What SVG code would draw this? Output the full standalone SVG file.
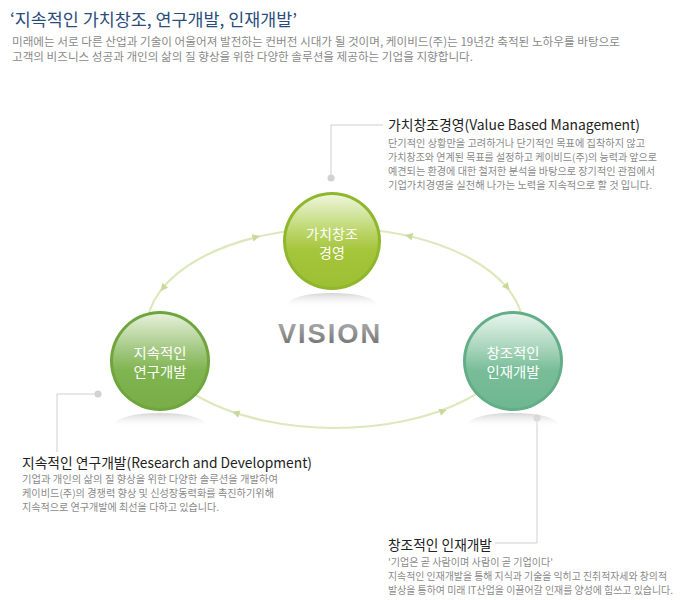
<svg xmlns="http://www.w3.org/2000/svg" width="680" height="600" viewBox="0 0 680 600">
<style>
.kr{font-family:"Noto Sans CJK KR","Liberation Sans",sans-serif}
.head{font-size:17px;fill:#2a4d7c}
.sub{font-size:11.5px;fill:#8a8a8a}
.bt{font-size:14px;fill:#222}
.bd{font-size:10px;fill:#8a8a8a}
.lbl{font-size:14px;fill:#fff;text-anchor:middle}
.ring{fill:none;stroke:#dde8bc;stroke-width:2.2}
.arr{fill:#c9d99c}
.co{fill:none;stroke:#cfcfcf;stroke-width:1}
.dot{fill:#d2d2d2}
.refl{fill:url(#gRefl)}
</style>
<defs>
<linearGradient id="gRefl" x1="0" y1="0" x2="0" y2="1">
<stop offset="0" stop-color="#cfcfcf" stop-opacity="0.9"/>
<stop offset="0.65" stop-color="#ffffff" stop-opacity="0"/>
</linearGradient>
<linearGradient id="gTop" x1="0" y1="0" x2="0" y2="1">
<stop offset="0" stop-color="#eef5da"/>
<stop offset="0.38" stop-color="#bdd76e"/>
<stop offset="0.6" stop-color="#a5c53b"/>
<stop offset="1" stop-color="#9dc033"/>
</linearGradient>
<linearGradient id="gLeft" x1="0" y1="0" x2="0" y2="1">
<stop offset="0" stop-color="#e6f0d9"/>
<stop offset="0.38" stop-color="#a3c882"/>
<stop offset="0.6" stop-color="#80b450"/>
<stop offset="1" stop-color="#78ad47"/>
</linearGradient>
<linearGradient id="gRight" x1="0" y1="0" x2="0" y2="1">
<stop offset="0" stop-color="#e8f4ed"/>
<stop offset="0.38" stop-color="#a5d3b9"/>
<stop offset="0.6" stop-color="#78bd98"/>
<stop offset="1" stop-color="#6eb791"/>
</linearGradient>
<linearGradient id="gVis" x1="0" y1="0" x2="0" y2="1">
<stop offset="0" stop-color="#b5b5b5"/>
<stop offset="1" stop-color="#6a6a6a"/>
</linearGradient>
<path id="ah" d="M4,0 L-3.5,-3.8 L-3.5,3.8 Z"/>
</defs>
<rect width="680" height="600" fill="#fff"/>

<g id="header" class="kr">
<text x="10" y="26" class="head" textLength="287" lengthAdjust="spacingAndGlyphs">‘지속적인 가치창조, 연구개발, 인재개발’</text>
<text x="12" y="46" class="sub" textLength="608" lengthAdjust="spacingAndGlyphs">미래에는 서로 다른 산업과 기술이 어울어져 발전하는 컨버전 시대가 될 것이며, 케이비드(주)는 19년간 축적된 노하우를 바탕으로</text>
<text x="12" y="61" class="sub" textLength="461" lengthAdjust="spacingAndGlyphs">고객의 비즈니스 성공과 개인의 삶의 질 향상을 위한 다양한 솔루션을 제공하는 기업을 지향합니다.</text>
</g>

<g id="connectors">
<ellipse class="ring" cx="335" cy="328" rx="188" ry="100"/>
<use href="#ah" class="arr" transform="translate(256,237) rotate(-14)"/>
<use href="#ah" class="arr" transform="translate(163,288) rotate(130)"/>
<use href="#ah" class="arr" transform="translate(409,236) rotate(193)"/>
<use href="#ah" class="arr" transform="translate(507,287) rotate(51)"/>
<use href="#ah" class="arr" transform="translate(236,413) rotate(198)"/>
<use href="#ah" class="arr" transform="translate(443,411) rotate(-20)"/>
<polyline class="co" points="331,178 331,125 383,125"/>
<circle class="dot" cx="331" cy="178" r="3.5"/>
<polyline class="co" points="98,394 57,394 57,452"/>
<circle class="dot" cx="98" cy="394" r="3.5"/>
<polyline class="co" points="537,418 537,543 495,543"/>
<circle class="dot" cx="537" cy="418" r="3.5"/>
</g>

<text x="330" y="343" font-family="'Liberation Sans',Arial,sans-serif" font-weight="bold" font-size="28" fill="url(#gVis)" text-anchor="middle" letter-spacing="2" textLength="104" lengthAdjust="spacingAndGlyphs">VISION</text>

<g id="node-value">
<ellipse class="refl" cx="332" cy="304" rx="44" ry="11"/>
<circle cx="332" cy="241" r="49" fill="#8fb72c"/>
<circle cx="332" cy="241" r="46" fill="url(#gTop)"/>
<text class="kr lbl" x="332" y="239" textLength="52" lengthAdjust="spacingAndGlyphs">가치창조</text>
<text class="kr lbl" x="332" y="258">경영</text>
</g>

<g id="node-rnd">
<ellipse class="refl" cx="160" cy="424" rx="45" ry="11"/>
<circle cx="160" cy="361" r="50" fill="#6ea53c"/>
<circle cx="160" cy="361" r="47" fill="url(#gLeft)"/>
<text class="kr lbl" x="160" y="358" textLength="53" lengthAdjust="spacingAndGlyphs">지속적인</text>
<text class="kr lbl" x="160" y="377" textLength="53" lengthAdjust="spacingAndGlyphs">연구개발</text>
</g>

<g id="node-hr">
<ellipse class="refl" cx="513" cy="424" rx="45" ry="11"/>
<circle cx="513" cy="361" r="50" fill="#63ae88"/>
<circle cx="513" cy="361" r="47" fill="url(#gRight)"/>
<text class="kr lbl" x="513" y="358" textLength="53" lengthAdjust="spacingAndGlyphs">창조적인</text>
<text class="kr lbl" x="513" y="377" textLength="53" lengthAdjust="spacingAndGlyphs">인재개발</text>
</g>

<g id="desc-value" class="kr">
<text x="388" y="130" class="bt" textLength="252" lengthAdjust="spacingAndGlyphs">가치창조경영(Value Based Management)</text>
<text x="388" y="147" class="bd" textLength="257" lengthAdjust="spacingAndGlyphs">단기적인 상황만을 고려하거나 단기적인 목표에 집착하지 않고</text>
<text x="388" y="161" class="bd" textLength="269" lengthAdjust="spacingAndGlyphs">가치창조와 연계된 목표를 설정하고 케이비드(주)의 능력과 앞으로</text>
<text x="388" y="175" class="bd" textLength="267" lengthAdjust="spacingAndGlyphs">예견되는 환경에 대한 철저한 분석을 바탕으로 장기적인 관점에서</text>
<text x="388" y="189" class="bd" textLength="264" lengthAdjust="spacingAndGlyphs">기업가치경영을 실천해 나가는 노력을 지속적으로 할 것 입니다.</text>
</g>

<g id="desc-rnd" class="kr">
<text x="22" y="468" class="bt" textLength="290" lengthAdjust="spacingAndGlyphs">지속적인 연구개발(Research and Development)</text>
<text x="22" y="483" class="bd" textLength="256" lengthAdjust="spacingAndGlyphs">기업과 개인의 삶의 질 향상을 위한 다양한 솔루션을 개발하여</text>
<text x="22" y="497" class="bd" textLength="252" lengthAdjust="spacingAndGlyphs">케이비드(주)의 경쟁력 향상 및 신성장동력화를 촉진하기위해</text>
<text x="22" y="511" class="bd" textLength="197" lengthAdjust="spacingAndGlyphs">지속적으로 연구개발에 최선을 다하고 있습니다.</text>
</g>

<g id="desc-hr" class="kr">
<text x="388" y="550" class="bt" textLength="104" lengthAdjust="spacingAndGlyphs">창조적인 인재개발</text>
<text x="388" y="566" class="bd" textLength="165" lengthAdjust="spacingAndGlyphs">'기업은 곧 사람이며 사람이 곧 기업이다'</text>
<text x="388" y="580" class="bd" textLength="279" lengthAdjust="spacingAndGlyphs">지속적인 인재개발을 통해 지식과 기술을 익히고 진취적자세와 창의적</text>
<text x="388" y="594" class="bd" textLength="285" lengthAdjust="spacingAndGlyphs">발상을 통하여 미래 IT산업을 이끌어갈 인재를 양성에 힘쓰고 있습니다.</text>
</g>
</svg>
